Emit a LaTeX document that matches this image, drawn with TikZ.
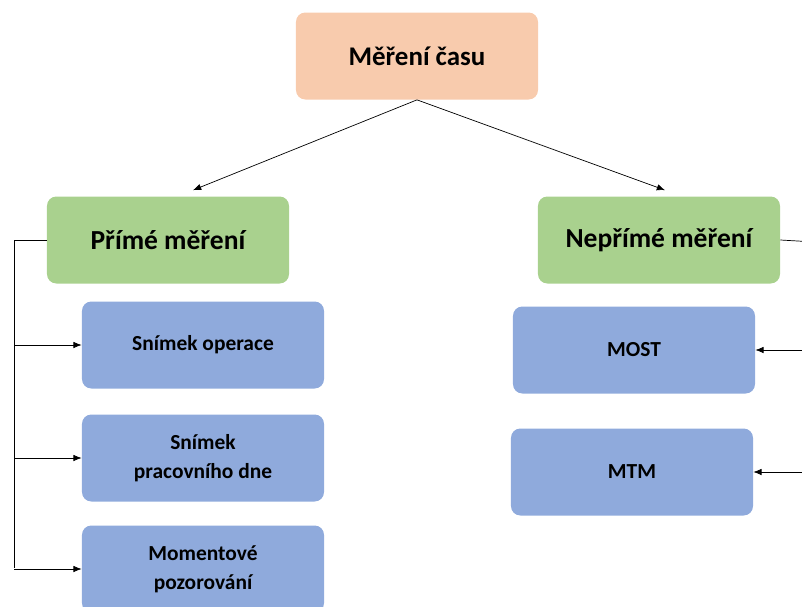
\documentclass[tikz,border=0pt]{standalone}
\usepackage{fontspec}
\setmainfont{Carlito}
\usetikzlibrary{arrows.meta}
\definecolor{peach}{HTML}{F8CBAD}
\definecolor{leaf}{HTML}{A9D18E}
\definecolor{sky}{HTML}{8FAADC}
\begin{document}
\begin{tikzpicture}[x=0.03cm,y=-0.03cm, >={Latex[length=7pt,width=5.5pt]}, line width=0.6pt,
  box/.style={rectangle,rounded corners=8pt,minimum width=7.26cm,minimum height=2.61cm,align=center,font=\bfseries},
  top node/.style={box,fill=peach,font=\bfseries\fontsize{23}{27}\selectfont},
  group node/.style={box,fill=leaf,font=\bfseries\fontsize{23.5}{27}\selectfont},
  item node/.style={box,fill=sky,font=\bfseries\fontsize{18.3}{25}\selectfont}]
\useasboundingbox (0,0) rectangle (802,606);
\clip (0,0) rectangle (802,606);
% nodes
\node[top node] (cas) at (417,56) {Měření času};%root
\node[group node] (prime) at (168,240) {Přímé měření};
\node[group node] (neprime) at (659,240) {Nepřímé měření};
\node[item node] (operace) at (203,345) {Snímek operace};
\node[item node] (den) at (203,458) {Snímek\\pracovního dne};
\node[item node] (moment) at (203,569) {Momentové\\pozorování};
\node[item node] (most) at (634,350) {MOST};
\node[item node] (mtm) at (632,472) {MTM};
% rails
\coordinate (lrail) at (14,240);
\coordinate (lend) at (14,568);
\coordinate (rrail) at (815,242);
\coordinate (rend) at (815,480);
% edges
\draw[->] (cas.south) -- ([shift={(25,-6)}]prime.north);
\draw[->] (cas.south) -- ([shift={(6,-6)}]neprime.north);
\draw (prime.west) -- (lrail) -- (lend);
\draw[->] (lrail |- operace.west) -- (operace.west);
\draw[->] (lrail |- den.west) -- (den.west);
\draw[->] (lrail |- moment.west) -- (moment.west);
\draw (neprime.east) -- (rrail) -- (rend);
\draw[->] (rrail |- most.east) -- (most.east);
\draw[->] (rrail |- mtm.east) -- (mtm.east);
\end{tikzpicture}
\end{document}
